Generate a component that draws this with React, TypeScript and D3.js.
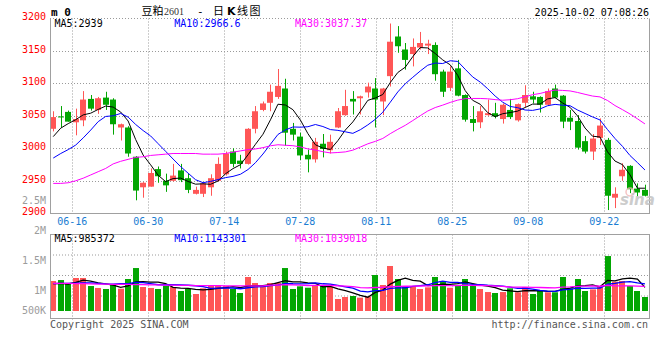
import React from 'react';
import * as d3 from 'd3';

// ---- data ----
const tickDates = ['06-16', '06-30', '07-14', '07-28', '08-11', '08-25', '09-08', '09-22'];
const tickIndex = [3, 13, 23, 33, 43, 53, 63, 73];

const opens = [
  3030, 3049, 3056, 3040, 3043, 3076, 3059, 3078, 3075, 3032,
  3032, 2987, 2940, 2941, 2968, 2950, 2950, 2966, 2954, 2930,
  2930, 2940, 2950, 2960, 2995, 2981, 2976, 3030, 3059, 3070,
  3079, 3092, 3030, 3018, 2990, 2983, 3007, 2997, 3032, 3051,
  3076, 3077, 3086, 3092, 3072, 3111, 3172, 3152, 3145, 3155,
  3158, 3159, 3118, 3093, 3123, 3082, 3045, 3040, 3051, 3054,
  3045, 3059, 3043, 3070, 3080, 3079, 3067, 3092, 3081, 3047,
  3042, 3011, 2995, 3016, 3013, 2924, 2957, 2973, 2938, 2936,
];
const highs = [
  3057, 3065, 3058, 3061, 3088, 3082, 3079, 3087, 3077, 3038,
  3034, 2988, 2948, 2969, 2972, 2961, 2976, 2976, 2961, 2941,
  2947, 2960, 2986, 2995, 3000, 2990, 3031, 3065, 3072, 3098,
  3122, 3107, 3039, 3024, 2998, 3016, 3022, 3021, 3062, 3090,
  3088, 3081, 3101, 3108, 3093, 3192, 3188, 3162, 3169, 3179,
  3167, 3163, 3121, 3126, 3136, 3083, 3065, 3065, 3075, 3070,
  3069, 3076, 3069, 3097, 3087, 3080, 3092, 3098, 3082, 3059,
  3051, 3019, 3022, 3046, 3016, 2940, 2977, 2974, 2946, 2944,
];
const lows = [
  3026, 3032, 3041, 3020, 3034, 3058, 3053, 3059, 3021, 3012,
  2987, 2920, 2924, 2941, 2947, 2933, 2949, 2948, 2931, 2929,
  2925, 2927, 2949, 2958, 2971, 2969, 2975, 3023, 3057, 3057,
  3076, 3004, 3012, 2982, 2963, 2978, 2986, 2992, 3031, 3050,
  3052, 3052, 3078, 3032, 3051, 3095, 3147, 3121, 3126, 3152,
  3145, 3104, 3079, 3088, 3080, 3041, 3026, 3031, 3050, 3046,
  3038, 3045, 3041, 3063, 3069, 3055, 3065, 3077, 3031, 3028,
  2998, 2992, 2982, 3005, 2905, 2908, 2950, 2931, 2926, 2926,
];
const closes = [
  3048, 3048, 3041, 3045, 3075, 3061, 3077, 3067, 3037, 3037,
  2992, 2935, 2947, 2962, 2957, 2943, 2958, 2951, 2936, 2936,
  2946, 2954, 2976, 2992, 2976, 2976, 3030, 3057, 3069, 3087,
  3096, 3024, 3021, 2989, 2983, 3010, 2999, 3010, 3057, 3065,
  3072, 3080, 3095, 3075, 3092, 3164, 3157, 3136, 3156, 3162,
  3161, 3114, 3087, 3118, 3081, 3044, 3039, 3057, 3054, 3049,
  3067, 3048, 3068, 3082, 3075, 3067, 3088, 3078, 3041, 3041,
  3001, 2995, 3015, 3035, 2927, 2930, 2967, 2937, 2932, 2927,
];
const volumes = [
  1250000, 1290000, 1125000, 1375000, 1375000, 1040000, 960000, 917000, 1083000, 930000,
  1333000, 1790000, 1000000, 960000, 917000, 1055000, 1000000, 833000, 917000, 708000,
  944000, 1083000, 1083000, 1040000, 917000, 750000, 1417000, 1167000, 1014000, 1167000,
  1167000, 1790000, 917000, 1028000, 970000, 1055000, 1070000, 1014000, 500000, 583000,
  625000, 556000, 600000, 1500000, 1083000, 1875000, 1333000, 1040000, 1040000, 917000,
  986000, 1417000, 1250000, 970000, 1083000, 1333000, 1083000, 917000, 790000, 750000,
  790000, 944000, 780000, 1000000, 708000, 833000, 780000, 780000, 1417000, 944000,
  1333000, 833000, 900000, 1040000, 2290000, 1220000, 1250000, 1040000, 833000, 583000,
];

// moving-average values before enough bars are on screen
const ma5Head = [3018, 3031, 3038, 3044];
const ma10Head = [2985, 2992, 2998, 3005, 3016, 3028, 3041, 3049, 3050];
const ma30Head = [
  2946, 2946, 2947, 2950, 2954, 2959, 2964, 2969, 2976, 2980,
  2983, 2986, 2987, 2989, 2990, 2991, 2992, 2992, 2992, 2992,
  2991, 2991, 2991, 2992, 2994, 2996, 2998, 2999, 3001,
];
const vma5Head = [1140000, 1150000, 1125000, 1190000];
const vma10Head = [1140000, 1150000, 1150000, 1160000, 1170000, 1170000, 1150000, 1130000, 1120000];
const vma30Head = [
  1150000, 1150000, 1150000, 1140000, 1140000, 1130000, 1120000, 1120000, 1110000, 1110000,
  1110000, 1100000, 1100000, 1090000, 1090000, 1080000, 1080000, 1070000, 1070000, 1060000,
  1060000, 1060000, 1060000, 1050000, 1050000, 1050000, 1050000, 1050000, 1050000,
];

const priceTicks = [2900, 2950, 3000, 3050, 3100, 3150, 3200];
const volTicks = [500000, 1000000, 1500000, 2000000, 2500000];
const volTickLabels = ['500K', '1M', '1.5M', '2M', '2.5M'];

const titleParts = ['豆', '粕', '2601', '-', '日', 'K', '线', '图'];
const priceMaLabels = ['MA5:2939', 'MA10:2966.6', 'MA30:3037.37'];
const volMaLabels = ['MA5:985372', 'MA10:1143301', 'MA30:1039018'];
const stamp = '2025-10-02 07:08:26';

function movingAvg(vals: number[], n: number, head: number[]): number[] {
  return vals.map((_, i) => (i < n - 1 ? head[i] : (d3.mean(vals.slice(i - n + 1, i + 1)) as number)));
}

const RED = '#ff5656';
const GREEN = '#02a602';
const MONO = '"DejaVu Sans Mono", "Liberation Mono", monospace';
const CJK = '"Noto Sans CJK SC", sans-serif';
const MA_COLORS = ['#000000', '#0000ff', '#ff00ff'];

export default function App() {
  const n = closes.length;
  const idx = d3.range(n);
  const left = 50;
  const right = 649;
  const pTop = 18.5;
  const pBot = 213.5;
  const vTop = 234.5;
  const vBot = 318.5;

  const x = d3.scaleBand<number>().domain(idx).range([49.5, 648.7]).paddingInner(0.2).paddingOuter(0.1);
  const cx = (i: number) => (x(i) as number) + x.bandwidth() / 2;
  const xg = d3.scaleLinear().domain([0, 79]).range([49.5, 649.9]);
  const y = d3.scaleLinear().domain([2900, 3200]).range([213.3, 18.3]);
  const yv = d3.scaleLinear().domain([0, 1000000]).range([311, 287]);
  const yvLabel = d3.scaleLinear().domain([2000000 / 3, 2500000]).range([310.3, 200.3]).clamp(true);

  const ma = [movingAvg(closes, 5, ma5Head), movingAvg(closes, 10, ma10Head), movingAvg(closes, 30, ma30Head)];
  const vma = [movingAvg(volumes, 5, vma5Head), movingAvg(volumes, 10, vma10Head), movingAvg(volumes, 30, vma30Head)];

  const priceLine = d3.line<number>().x((_, i) => cx(i)).y((d) => y(d));
  const volLine = d3.line<number>().x((_, i) => cx(i)).y((d) => yv(d));

  const crisp = (v: number) => Math.round(v) + 0.5;
  const bw = 6;
  const up = (i: number) => closes[i] >= opens[i];

  const gridColor = '#9a9a9a';
  const borderColor = '#a0a0a0';
  const titleX = [141.5, 152.5, 164, 197, 213, 227, 237, 249.5];

  return (
    <svg
      width={660}
      height={360}
      style={{ position: 'absolute', left: 0, top: 0, background: '#fff' }}
      fontFamily={MONO}
    >
      <rect x={0} y={0} width={660} height={360} fill="#fff" />

      {/* header */}
      <text x={51} y={15.5} fontSize={11} fontWeight="bold" fill="#000">m 0</text>
      <text y={15} fontSize={11} fill="#000" fontFamily={CJK}>
        <tspan x={titleX[0]}>{titleParts[0]}</tspan>
        <tspan x={titleX[1]}>{titleParts[1]}</tspan>
        <tspan x={titleX[2]} fontFamily='"Liberation Serif", serif' fontSize={10} fill="#333">{titleParts[2]}</tspan>
        <tspan x={titleX[3]} fontFamily={MONO}>{titleParts[3]}</tspan>
        <tspan x={titleX[4]}>{titleParts[4]}</tspan>
        <tspan x={titleX[5]} fontWeight="bold" fontFamily='"DejaVu Sans", sans-serif'>{titleParts[5]}</tspan>
        <tspan x={titleX[6]}>{titleParts[6]}</tspan>
        <tspan x={titleX[7]}>{titleParts[7]}</tspan>
      </text>
      <text x={649} y={16} fontSize={10} textAnchor="end" fill="#000">{stamp}</text>

      {/* price panel grid */}
      {priceTicks.slice(1).map((t) => (
        <line key={'pg' + t} x1={left} x2={right} y1={crisp(y(t))} y2={crisp(y(t))}
          stroke={gridColor} strokeDasharray="1 2" />
      ))}
      {tickIndex.map((k) => (
        <line key={'pv' + k} x1={crisp(xg(k))} x2={crisp(xg(k))} y1={pTop} y2={pBot}
          stroke={gridColor} strokeDasharray="1 2" />
      ))}
      {priceTicks.map((t) => (
        <text key={'pl' + t} x={46} y={y(t) + 1.9} fontSize={10} textAnchor="end" fill="#ff0000">{t}</text>
      ))}

      {/* candles */}
      {idx.map((i) => {
        const c = up(i) ? RED : GREEN;
        const xc = crisp(cx(i));
        const top = y(Math.max(opens[i], closes[i]));
        const bot = y(Math.min(opens[i], closes[i]));
        return (
          <g key={'c' + i}>
            <line x1={xc} x2={xc} y1={y(highs[i])} y2={y(lows[i])} stroke={c} strokeWidth={1} />
            <rect x={Math.round(cx(i) - bw / 2)} y={top} width={bw} height={Math.max(1, bot - top)} fill={c} />
          </g>
        );
      })}

      {/* price MAs */}
      {ma.map((s, k) => (
        <path key={'ma' + k} d={priceLine(s) as string} fill="none" stroke={MA_COLORS[k]} strokeWidth={1} />
      ))}

      {/* price panel border */}
      <line x1={left + 0.5} x2={left + 0.5} y1={pTop} y2={pBot} stroke={borderColor} />
      <line x1={right + 0.5} x2={right + 0.5} y1={pTop} y2={pBot} stroke={borderColor} />
      <line x1={left} x2={right + 1} y1={pBot} y2={pBot} stroke={borderColor} />

      {/* price MA labels */}
      {priceMaLabels.map((t, k) => (
        <text key={'pml' + k} x={[54.5, 174.3, 295][k]} y={27} fontSize={10} fill={MA_COLORS[k]}>{t}</text>
      ))}

      {/* watermark */}
      <circle cx={630} cy={192} r={4} fill="none" stroke="#f3b4b4" strokeWidth={1.5} opacity={0.8} />
      <text x={620} y={205} fontSize={15} fontStyle="italic" fontWeight="bold" fill="#c4c4c4"
        fontFamily="'DejaVu Sans', sans-serif" opacity={0.85}>sina</text>

      {/* date labels */}
      {tickIndex.map((k, j) => (
        <text key={'dl' + k} x={xg(k)} y={225.3} fontSize={10} textAnchor="middle" fill="#1a7dd2">{tickDates[j]}</text>
      ))}

      {/* volume panel grid */}
      {[1, 2, 3].map((k) => (
        <line key={'vg' + k} x1={left} x2={right} y1={vTop + 20.5 * k} y2={vTop + 20.5 * k}
          stroke={gridColor} strokeDasharray="1 2" />
      ))}
      {tickIndex.map((k) => (
        <line key={'vv' + k} x1={crisp(xg(k))} x2={crisp(xg(k))} y1={vTop} y2={vBot + 3}
          stroke={gridColor} strokeDasharray="1 2" />
      ))}
      {volTicks.map((t, j) => (
        <text key={'vl' + t} x={46} y={yvLabel(t) + 3.6} fontSize={10} textAnchor="end" fill="#9c9c9c">{volTickLabels[j]}</text>
      ))}

      {/* volume bars */}
      {idx.map((i) => (
        <rect key={'v' + i} x={Math.round(cx(i) - bw / 2)} y={yv(volumes[i])} width={bw}
          height={yv(0) - yv(volumes[i])} fill={up(i) ? RED : GREEN} />
      ))}

      {/* volume MAs */}
      {vma.map((s, k) => (
        <path key={'vma' + k} d={volLine(s) as string} fill="none" stroke={MA_COLORS[k]} strokeWidth={1.3} />
      ))}

      {/* volume panel border */}
      <line x1={left} x2={right + 1} y1={vTop} y2={vTop} stroke={borderColor} />
      <line x1={left + 0.5} x2={left + 0.5} y1={vTop} y2={vBot} stroke={borderColor} />
      <line x1={right + 0.5} x2={right + 0.5} y1={vTop} y2={vBot} stroke={borderColor} />
      <line x1={left} x2={right + 1} y1={vBot} y2={vBot} stroke={borderColor} />

      {volMaLabels.map((t, k) => (
        <text key={'vml' + k} x={[54.5, 174.3, 295][k]} y={242} fontSize={10} fill={MA_COLORS[k]}>{t}</text>
      ))}

      {/* footer */}
      <text x={50} y={327.5} fontSize={10} fill="#555">Copyright 2025 SINA.COM</text>
      <text x={648} y={327.5} fontSize={10} textAnchor="end" fill="#555">http://finance.sina.com.cn</text>
    </svg>
  );
}
